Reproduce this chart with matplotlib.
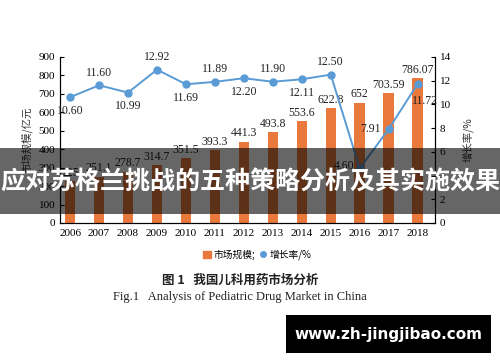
import matplotlib.pyplot as plt
from matplotlib.patches import Rectangle
from matplotlib.lines import Line2D

# 数据
years = ['2006', '2007', '2008', '2009', '2010', '2011', '2012',
         '2013', '2014', '2015', '2016', '2017', '2018']
market = [225, 251.1, 278.7, 314.7, 351.5, 393.3, 441.3,
          493.8, 553.6, 622.8, 652, 703.59, 786.07]
market_text = ['225', '251.1', '278.7', '314.7', '351.5', '393.3', '441.3',
               '493.8', '553.6', '622.8', '652', '703.59', '786.07']
growth = [10.60, 11.60, 10.99, 12.92, 11.69, 11.89, 12.20,
          11.90, 12.11, 12.50, 4.60, 7.91, 11.72]
growth_text = ['10.60', '11.60', '10.99', '12.92', '11.69', '11.89', '12.20',
               '11.90', '12.11', '12.50', '4.60', '7.91', '11.72']

# 标签偏移 (points)
offs = [(0, -10), (0, 9), (0, -10), (0, 9), (0, -10), (0, 9), (0, -10),
        (0, 9), (0, -10), (0, 9), (-11, 2), (-13, 0), (5, -12)]

orange = '#E8783C'
blue = '#5B9BD5'
serif = ['Liberation Serif', 'Noto Sans CJK SC']
cjk = ['Noto Sans CJK SC', 'DejaVu Sans']

fig = plt.figure(figsize=(5, 3.62), dpi=100)
ax = fig.add_axes([0.12, 0.384, 0.75, 0.459])
x = list(range(len(years)))

ax.bar(x, market, width=0.36, color=orange, zorder=2)
for i in x:
    ax.text(i, market[i] + 12, market_text[i], ha='center', va='bottom',
            fontsize=8.5, family=serif, color='#222222')
ax.set_ylim(0, 900)
ax.set_yticks(range(0, 901, 100))
ax.set_xlim(-0.35, 12.6)
ax.set_xticks(x)
ax.set_xticklabels(years, family=serif, fontsize=8)
ax.tick_params(axis='x', length=0, pad=4)
ax.tick_params(axis='y', direction='in', length=3, labelsize=8)
for lab in ax.get_yticklabels():
    lab.set_family(serif)
ax.spines['top'].set_visible(False)
ax.set_ylabel('市场规模/亿元', family=cjk, fontsize=7.5, color='#333333', labelpad=4)

ax2 = ax.twinx()
ax2.plot(x, growth, color=blue, marker='o', ms=5, lw=1.4, zorder=3)
for i in x:
    ax2.annotate(growth_text[i], (i, growth[i]), textcoords='offset points',
                 xytext=offs[i], ha='center', va='center',
                 fontsize=8.5, family=serif, color='#222222')
ax2.set_ylim(0, 14)
ax2.set_yticks(range(0, 15, 2))
ax2.tick_params(axis='y', direction='in', length=3, labelsize=8)
for lab in ax2.get_yticklabels():
    lab.set_family(serif)
ax2.spines['top'].set_visible(False)
ax2.set_ylabel('增长率/%', family=cjk, fontsize=7.5, color='#333333',
               rotation=90, labelpad=8)

# 图例
handles = [Rectangle((0, 0), 1, 1, color=orange),
           Line2D([], [], color=blue, marker='o', ls='', ms=4)]
fig.legend(handles, ['市场规模;', '增长率/%'], loc='center',
           bbox_to_anchor=(0.515, 0.296), ncol=2, frameon=False,
           prop={'family': cjk, 'size': 7}, handlelength=0.8,
           handletextpad=0.3, columnspacing=0.4)

# 标题
fig.text(0.48, 0.226, '图 1   我国儿科用药市场分析', ha='center', va='center',
         family=cjk, fontsize=9, fontweight='bold', color='#222222')
fig.text(0.48, 0.18, 'Fig.1   Analysis of Pediatric Drug Market in China',
         ha='center', va='center', family=serif, fontsize=9, color='#222222')

# 遮罩横幅
band = Rectangle((0, 1 - 214 / 362), 1, 66 / 362, transform=fig.transFigure,
                 color='black', alpha=0.6, zorder=10, lw=0)
fig.add_artist(band)
fig.text(0.5, 1 - 182 / 362, '应对苏格兰挑战的五种策略分析及其实施效果',
         ha='center', va='center', family=cjk, fontsize=18,
         fontweight='bold', color='white', zorder=11)

# 水印
wm = Rectangle((286 / 500, 1 - 353 / 362), 205 / 500, 38 / 362,
               transform=fig.transFigure, color='black', zorder=10, lw=0)
fig.add_artist(wm)
fig.text(388 / 500, 1 - 334 / 362, 'www.zh-jingjibao.com', ha='center',
         va='center', family='DejaVu Sans', fontsize=11, fontweight='bold',
         color='white', zorder=11)

fig.savefig('out.png', dpi=100)
